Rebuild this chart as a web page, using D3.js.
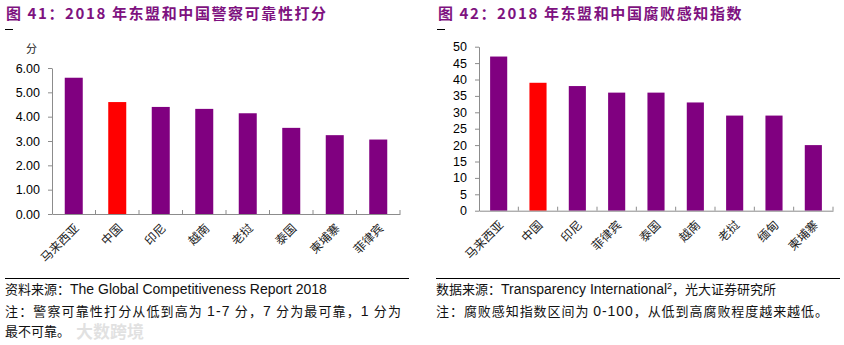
<!DOCTYPE html>
<html>
<head>
<meta charset="utf-8">
<script src="https://cdn.jsdelivr.net/npm/d3@7"></script>
<style>
  html, body { margin: 0; padding: 0; background: #fff; }
  svg { display: block; }
</style>
</head>
<body>
<script>
// 图41 数据
const policeCats = ["马来西亚", "中国", "印尼", "越南", "老挝", "泰国", "柬埔寨", "菲律宾"];
const policeVals = [5.6, 4.6, 4.4, 4.32, 4.14, 3.54, 3.24, 3.06];
const policeTicks = [0, 1, 2, 3, 4, 5, 6];

// 图42 数据
const cpiCats = ["马来西亚", "中国", "印尼", "菲律宾", "泰国", "越南", "老挝", "缅甸", "柬埔寨"];
const cpiVals = [47, 39, 38, 36, 36, 33, 29, 29, 20];
const cpiTicks = [0, 5, 10, 15, 20, 25, 30, 35, 40, 45, 50];

const width = 844, height = 345;
const purple = "#800080", red = "#ff0000", titleColor = "#7e1280";
const axisColor = "#8c8c8c";
const cjk = "'Noto Sans CJK SC', sans-serif";
const latin = "'Liberation Sans', Arial, sans-serif";

const svg = d3.select("body").append("svg")
  .attr("width", width)
  .attr("height", height);

function drawChart(opt) {
  const g = svg.append("g");

  // 标题
  g.append("text")
    .attr("x", opt.titleX).attr("y", 19)
    .attr("fill", titleColor)
    .attr("font-family", cjk)
    .attr("font-weight", "bold")
    .attr("font-size", 15)
    .attr("letter-spacing", 1.6)
    .text(opt.title);
  g.append("line")
    .attr("x1", opt.titleX - 1).attr("x2", opt.titleX + 7)
    .attr("y1", 29.5).attr("y2", 29.5)
    .attr("stroke", "#000").attr("stroke-width", 1);

  const x = d3.scaleBand()
    .domain(opt.cats)
    .range([opt.left, opt.right])
    .paddingInner(opt.pad)
    .paddingOuter(opt.pad / 2);

  const y = d3.scaleLinear()
    .domain([0, d3.max(opt.ticks)])
    .range([opt.bottom, opt.top]);

  // 柱子
  g.selectAll("rect.bar")
    .data(opt.vals)
    .join("rect")
    .attr("class", "bar")
    .attr("x", (d, i) => x(opt.cats[i]))
    .attr("y", d => y(d))
    .attr("width", x.bandwidth())
    .attr("height", d => y(0) - y(d))
    .attr("fill", (d, i) => opt.cats[i] === "中国" ? red : purple);

  // Y轴
  const yAxis = g.append("g")
    .attr("transform", `translate(${opt.left},0)`)
    .call(d3.axisLeft(y)
      .tickValues(opt.ticks)
      .tickSize(4)
      .tickSizeOuter(0)
      .tickPadding(8)
      .tickFormat(opt.fmt));
  yAxis.select(".domain").attr("stroke", axisColor);
  yAxis.selectAll(".tick line").attr("stroke", axisColor);
  yAxis.selectAll(".tick text")
    .attr("font-family", latin)
    .attr("font-size", 12.5)
    .attr("fill", "#000");

  // X轴
  const xAxis = g.append("g")
    .attr("transform", `translate(0,${opt.bottom})`)
    .call(d3.axisBottom(x).tickSize(0).tickSizeOuter(0).tickPadding(0));
  xAxis.select(".domain").attr("stroke", axisColor);
  xAxis.selectAll(".tick text")
    .attr("font-family", cjk)
    .attr("font-size", 12)
    .attr("fill", "#222")
    .attr("text-anchor", "end")
    .attr("dy", 0)
    .attr("transform", `translate(${x.bandwidth() / 2 - 3},15) rotate(-45)`);

  // 类别分隔刻度
  const bounds = d3.range(opt.cats.length + 1).map(i => opt.left + i * x.step());
  g.selectAll("line.sep")
    .data(bounds.slice(1))
    .join("line")
    .attr("class", "sep")
    .attr("x1", d => d).attr("x2", d => d)
    .attr("y1", opt.bottom).attr("y2", opt.bottom - 4)
    .attr("stroke", axisColor);

  // 单位
  if (opt.unit) {
    g.append("text")
      .attr("x", opt.unitX).attr("y", 53)
      .attr("font-family", cjk)
      .attr("font-size", 11)
      .attr("fill", "#222")
      .text(opt.unit);
  }

  // 底部分隔线
  g.append("line")
    .attr("x1", opt.footX).attr("x2", opt.footX + 404)
    .attr("y1", 278.5).attr("y2", 278.5)
    .attr("stroke", "#000").attr("stroke-width", 1);

  // 注释
  opt.notes.forEach((n, i) => {
    const t = g.append("text")
      .attr("x", opt.footX).attr("y", n.y)
      .attr("font-family", cjk)
      .attr("font-size", 13)
      .attr("fill", "#111");
    if (n.len) t.attr("textLength", n.len).attr("lengthAdjust", "spacing");
    n.parts.forEach(p => {
      const s = t.append("tspan").text(p.t);
      if (p.latin) s.attr("font-family", latin).attr("font-size", 14);
      if (p.sup) s.attr("font-family", latin).attr("font-size", 9).attr("baseline-shift", "super");
    });
  });
}

drawChart({
  title: "图 41：2018 年东盟和中国警察可靠性打分",
  titleX: 6,
  cats: policeCats, vals: policeVals, ticks: policeTicks,
  fmt: d3.format(".2f"),
  left: 52, right: 400, top: 68, bottom: 214,
  pad: 0.586,
  unit: "分", unitX: 26,
  footX: 5,
  notes: [
    { y: 294, parts: [{ t: "资料来源：" }, { t: "The Global Competitiveness Report 2018", latin: true }] },
    { y: 316, len: 396, parts: [{ t: "注：警察可靠性打分从低到高为 " }, { t: "1-7", latin: true }, { t: " 分，" }, { t: "7", latin: true }, { t: " 分为最可靠，" }, { t: "1", latin: true }, { t: " 分为" }] },
    { y: 336, parts: [{ t: "最不可靠。" }] }
  ]
});

drawChart({
  title: "图 42：2018 年东盟和中国腐败感知指数",
  titleX: 438,
  cats: cpiCats, vals: cpiVals, ticks: cpiTicks,
  fmt: d3.format("d"),
  left: 479, right: 833, top: 46.7, bottom: 210.7,
  pad: 0.565,
  footX: 436,
  notes: [
    { y: 294, parts: [{ t: "数据来源：" }, { t: "Transparency International", latin: true }, { t: "2", sup: true }, { t: "，光大证券研究所" }] },
    { y: 316, len: 392, parts: [{ t: "注：腐败感知指数区间为 " }, { t: "0-100", latin: true }, { t: "，从低到高腐败程度越来越低。" }] }
  ]
});

// 水印
svg.append("text")
  .attr("x", 76).attr("y", 338)
  .attr("font-family", cjk)
  .attr("font-weight", "bold")
  .attr("font-size", 17)
  .attr("fill", "#d8d8d8")
  .attr("fill-opacity", 0.75)
  .text("大数跨境");
</script>
</body>
</html>
